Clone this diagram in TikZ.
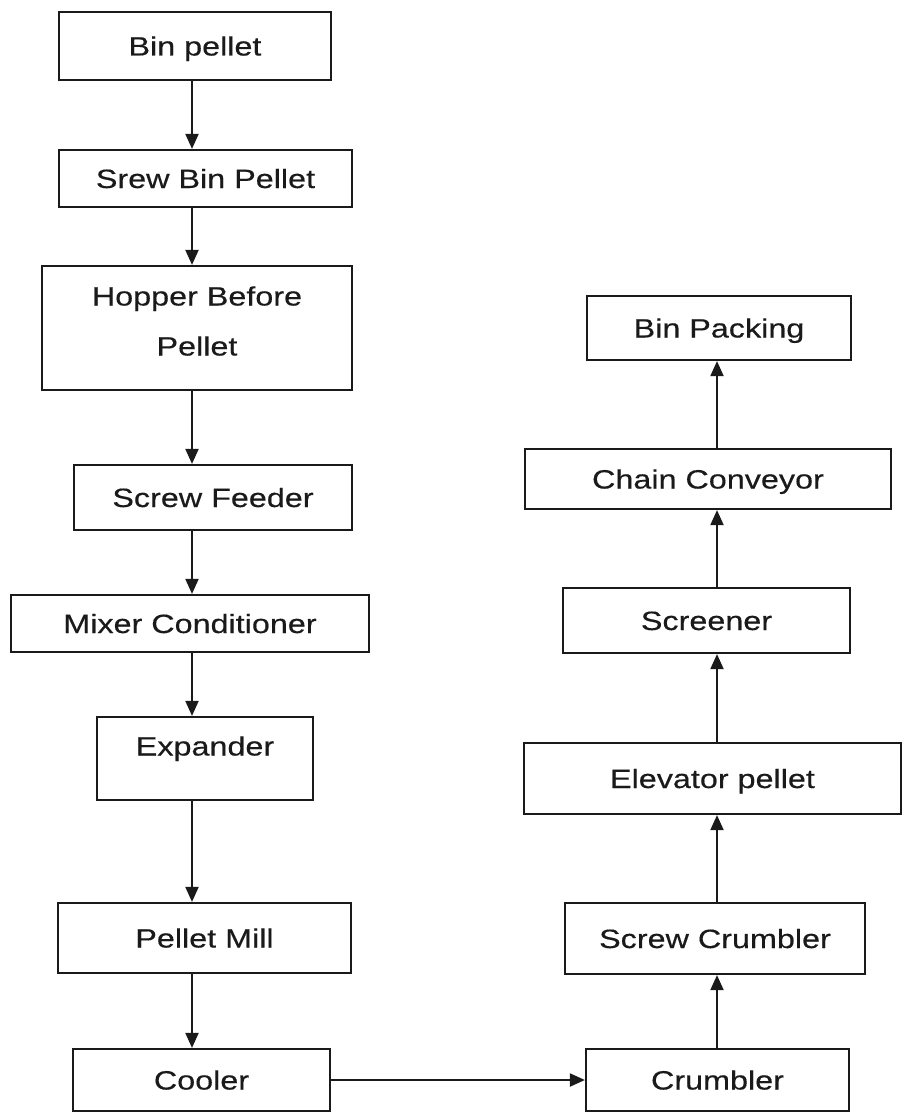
\documentclass[tikz,border=0pt]{standalone}
\usepackage{fontspec}
\setmainfont{Liberation Sans}[FakeStretch=1.22,FakeBold=0.35]
\usetikzlibrary{arrows.meta}
\definecolor{ink}{HTML}{1A1A1A}
\begin{document}
\begin{tikzpicture}[x=1pt,y=-1pt,
  box/.style={draw=ink, line width=2.2pt, inner sep=0pt, text=ink,
    font=\fontsize{26.5}{50}\selectfont, text height=19pt, text depth=0pt, align=center},
  flow/.style={draw=ink, line width=2pt, -{Triangle[width=13pt,length=15pt]}}]
\useasboundingbox[fill=white] (0,0) rectangle (905,1113);
\coordinate (lx) at (192,0);
\coordinate (rx) at (717,0);
% left column
\node[box, minimum width=272pt, minimum height=68pt] (binp) at (195,46) {Bin pellet};
\node[box, minimum width=293pt, minimum height=57pt] (srew) at (205.5,178.5) {Srew Bin Pellet};
\node[box, minimum width=310pt, minimum height=124pt, text height=69pt, text depth=14pt] (hopper) at (197,328) {Hopper Before\\Pellet};
\node[box, minimum width=278pt, minimum height=65pt] (feeder) at (213,497.5) {Screw Feeder};
\node[box, minimum width=358pt, minimum height=57pt] (mixer) at (190,623.5) {Mixer Conditioner};
\node[box, minimum width=216pt, minimum height=83pt, text depth=25pt] (expander) at (205,758.5) {Expander};
\node[box, minimum width=293pt, minimum height=70pt] (mill) at (204.5,938) {Pellet Mill};
\node[box, minimum width=257pt, minimum height=62pt] (cooler) at (201.5,1080) {Cooler};
% right column
\node[box, minimum width=264pt, minimum height=64pt] (binpack) at (719,328) {Bin Packing};
\node[box, minimum width=366pt, minimum height=60pt] (chain) at (708,479) {Chain Conveyor};
\node[box, minimum width=287pt, minimum height=65pt] (screener) at (706.5,620.5) {Screener};
\node[box, minimum width=377pt, minimum height=71pt] (elevator) at (712.5,778.5) {Elevator pellet};
\node[box, minimum width=300pt, minimum height=71pt] (screwc) at (715,938.5) {Screw Crumbler};
\node[box, minimum width=263pt, minimum height=62pt] (crumbler) at (717.5,1080) {Crumbler};
% connectors left
\draw[flow] (binp.south -| lx) -- (srew.north -| lx);
\draw[flow] (srew.south -| lx) -- (hopper.north -| lx);
\draw[flow] (hopper.south -| lx) -- (feeder.north -| lx);
\draw[flow] (feeder.south -| lx) -- (mixer.north -| lx);
\draw[flow] (mixer.south -| lx) -- (expander.north -| lx);
\draw[flow] (expander.south -| lx) -- (mill.north -| lx);
\draw[flow] (mill.south -| lx) -- (cooler.north -| lx);
% bottom link
\draw[flow] (cooler.east) -- (crumbler.west);
% connectors right
\draw[flow] (crumbler.north -| rx) -- (screwc.south -| rx);
\draw[flow] (screwc.north -| rx) -- (elevator.south -| rx);
\draw[flow] (elevator.north -| rx) -- (screener.south -| rx);
\draw[flow] (screener.north -| rx) -- (chain.south -| rx);
\draw[flow] (chain.north -| rx) -- (binpack.south -| rx);
\end{tikzpicture}
\end{document}
